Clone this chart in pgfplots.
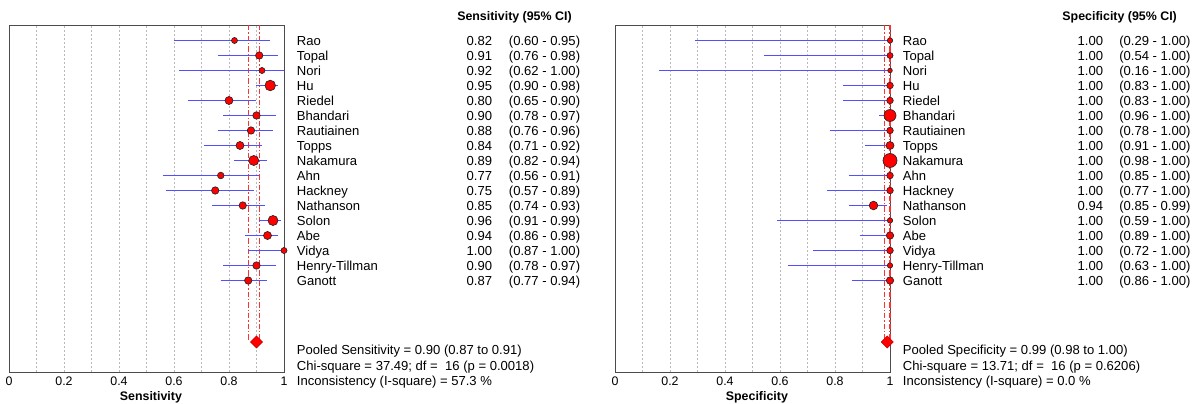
\documentclass[border=0pt]{standalone}
\usepackage{pgfplots}
\usepackage{pgfplotstable}
\pgfplotsset{compat=1.18}
\usepackage{fontspec}
\setmainfont{Liberation Sans}

\definecolor{cil}{RGB}{80,80,255}
\definecolor{poolred}{RGB}{255,50,50}

% y = row, est = estimate, r = marker radius (px)
\pgfplotstableread{
y   est  r
-1  0.82 3.0
-2  0.91 3.7
-3  0.92 3.0
-4  0.95 5.3
-5  0.80 4.0
-6  0.90 3.7
-7  0.88 3.7
-8  0.84 4.0
-9  0.89 5.0
-10 0.77 3.3
-11 0.75 3.7
-12 0.85 3.7
-13 0.96 5.0
-14 0.94 4.0
-15 1.00 3.0
-16 0.90 3.7
-17 0.87 3.7
}\sens

\pgfplotstableread{
y   est  r
-1  1.00 2.7
-2  1.00 3.0
-3  1.00 2.3
-4  1.00 3.3
-5  1.00 3.3
-6  1.00 6.0
-7  1.00 3.3
-8  1.00 4.0
-9  1.00 7.0
-10 1.00 3.3
-11 1.00 3.3
-12 0.94 4.3
-13 1.00 2.7
-14 1.00 3.7
-15 1.00 3.3
-16 1.00 2.7
-17 1.00 3.7
}\spec

\pgfplotsset{
  forest/.style={
    width=206.25pt, height=260.25pt, scale only axis,
    xmin=0, xmax=1, ymin=-23.1, ymax=0.0333333,
    clip=false,
    axis line style={black!70, line width=0.7pt},
    ytick=\empty,
    xtick={0,0.2,0.4,0.6,0.8,1},
    xticklabels={0,0.2,0.4,0.6,0.8,1},
    minor xtick={0.1,0.2,0.3,0.4,0.5,0.6,0.7,0.8,0.9},
    xminorgrids,
    minor grid style={gray!55, dash pattern=on 1.5pt off 1.5pt, line width=0.5pt},
    major tick length=0pt, minor tick length=0pt,
    xticklabel style={anchor=base, yshift=-10.3pt},
    xlabel style={font=\fontsize{9.3}{11}\selectfont\bfseries, at={(axis description cs:0.516,0)}, anchor=base, yshift=-21pt},
    unbounded coords=jump,
  },
  cimarks/.style={scatter, only marks, mark=*,
    scatter/use mapped color={draw=black!85, fill=red},
    visualization depends on={0.75*\thisrow{r} \as \rad},
    scatter/@pre marker code/.append style={/tikz/mark size=\rad},
    mark options={line width=0.5pt}},
  cilines/.style={cil, line width=1.2pt, mark=none},
  poolline/.style={poolred, line width=0.8pt, dash pattern=on 4pt off 1.5pt on 1pt off 1.5pt},
  pooldiamond/.style={only marks, mark=square*, mark size=3.2pt,
    mark options={rotate=45, fill=red, draw=red!75!black, line width=0.4pt}},
}

\tikzset{txt/.style={inner sep=0pt, font=\fontsize{9.8}{11}\selectfont}}

\newcommand\xn{1.0462}
\newcommand\xv{1.7575}
\newcommand\xc{1.817}
\newcommand\rowtext[4]{%
  \node[txt, anchor=base west, yshift=-3.4pt] at (axis cs:\xn,-#1) {#2};
  \node[txt, anchor=base east, yshift=-3.4pt] at (axis cs:\xv,-#1) {#3};
  \node[txt, anchor=base west, yshift=-3.4pt] at (axis cs:\xc,-#1) {#4};}

\begin{document}
\fontsize{9.3}{11}\selectfont
\begin{tikzpicture}
  % ---------------- Sensitivity ----------------
  \begin{axis}[forest, at={(0pt,0pt)}, anchor=south west, xlabel={Sensitivity}]
    \addplot[poolline] coordinates {(0.87,0.0333) (0.87,-21)};
    \addplot[poolline] coordinates {(0.91,0.0333) (0.91,-21)};
    \addplot[cimarks] table[x=est, y=y] {\sens};
    \addplot[cilines] coordinates {
      (0.60,-1) (0.95,-1) (nan,nan)
      (0.76,-2) (0.98,-2) (nan,nan)
      (0.62,-3) (1.00,-3) (nan,nan)
      (0.90,-4) (0.98,-4) (nan,nan)
      (0.65,-5) (0.90,-5) (nan,nan)
      (0.78,-6) (0.97,-6) (nan,nan)
      (0.76,-7) (0.96,-7) (nan,nan)
      (0.71,-8) (0.92,-8) (nan,nan)
      (0.82,-9) (0.94,-9) (nan,nan)
      (0.56,-10) (0.91,-10) (nan,nan)
      (0.57,-11) (0.89,-11) (nan,nan)
      (0.74,-12) (0.93,-12) (nan,nan)
      (0.91,-13) (0.99,-13) (nan,nan)
      (0.86,-14) (0.98,-14) (nan,nan)
      (0.87,-15) (1.00,-15) (nan,nan)
      (0.78,-16) (0.97,-16) (nan,nan)
      (0.77,-17) (0.94,-17)
    };
    \addplot[pooldiamond] coordinates {(0.90,-21.1)};

    \node[inner sep=0pt, anchor=base, font=\bfseries] at (axis cs:1.838,0.333) {Sensitivity (95\% CI)};
    \rowtext{1}{Rao}{0.82}{(0.60 - 0.95)}
    \rowtext{2}{Topal}{0.91}{(0.76 - 0.98)}
    \rowtext{3}{Nori}{0.92}{(0.62 - 1.00)}
    \rowtext{4}{Hu}{0.95}{(0.90 - 0.98)}
    \rowtext{5}{Riedel}{0.80}{(0.65 - 0.90)}
    \rowtext{6}{Bhandari}{0.90}{(0.78 - 0.97)}
    \rowtext{7}{Rautiainen}{0.88}{(0.76 - 0.96)}
    \rowtext{8}{Topps}{0.84}{(0.71 - 0.92)}
    \rowtext{9}{Nakamura}{0.89}{(0.82 - 0.94)}
    \rowtext{10}{Ahn}{0.77}{(0.56 - 0.91)}
    \rowtext{11}{Hackney}{0.75}{(0.57 - 0.89)}
    \rowtext{12}{Nathanson}{0.85}{(0.74 - 0.93)}
    \rowtext{13}{Solon}{0.96}{(0.91 - 0.99)}
    \rowtext{14}{Abe}{0.94}{(0.86 - 0.98)}
    \rowtext{15}{Vidya}{1.00}{(0.87 - 1.00)}
    \rowtext{16}{Henry-Tillman}{0.90}{(0.78 - 0.97)}
    \rowtext{17}{Ganott}{0.87}{(0.77 - 0.94)}
    \node[txt, anchor=base west] at (axis cs:\xn,-21.9) {Pooled Sensitivity = 0.90 (0.87 to 0.91)};
    \node[txt, anchor=base west] at (axis cs:\xn,-22.97) {Chi-square = 37.49; df = \ 16 (p = 0.0018)};
    \node[txt, anchor=base west] at (axis cs:\xn,-24.01) {Inconsistency (I-square) = 57.3 \%};

    \coordinate (bbsw) at (axis cs:-0.0327,-25.1667);
    \coordinate (bbne) at (axis cs:4.3018,1.7);
  \end{axis}

  % ---------------- Specificity ----------------
  \renewcommand\xv{1.7757}
  \renewcommand\xc{1.8327}
  \begin{axis}[forest, at={(454.5pt,0pt)}, anchor=south west, xlabel={Specificity}]
    \addplot[poolline] coordinates {(0.98,0.0333) (0.98,-21)};
    \addplot[poolline] coordinates {(1.00,0.0333) (1.00,-21)};
    \addplot[cimarks] table[x=est, y=y] {\spec};
    \addplot[cilines] coordinates {
      (0.29,-1) (1.00,-1) (nan,nan)
      (0.54,-2) (1.00,-2) (nan,nan)
      (0.16,-3) (1.00,-3) (nan,nan)
      (0.83,-4) (1.00,-4) (nan,nan)
      (0.83,-5) (1.00,-5) (nan,nan)
      (0.96,-6) (1.00,-6) (nan,nan)
      (0.78,-7) (1.00,-7) (nan,nan)
      (0.91,-8) (1.00,-8) (nan,nan)
      (0.98,-9) (1.00,-9) (nan,nan)
      (0.85,-10) (1.00,-10) (nan,nan)
      (0.77,-11) (1.00,-11) (nan,nan)
      (0.85,-12) (0.99,-12) (nan,nan)
      (0.59,-13) (1.00,-13) (nan,nan)
      (0.89,-14) (1.00,-14) (nan,nan)
      (0.72,-15) (1.00,-15) (nan,nan)
      (0.63,-16) (1.00,-16) (nan,nan)
      (0.86,-17) (1.00,-17)
    };
    \addplot[pooldiamond] coordinates {(0.99,-21.1)};

    \node[inner sep=0pt, anchor=base, font=\bfseries] at (axis cs:1.835,0.333) {Specificity (95\% CI)};
    \rowtext{1}{Rao}{1.00}{(0.29 - 1.00)}
    \rowtext{2}{Topal}{1.00}{(0.54 - 1.00)}
    \rowtext{3}{Nori}{1.00}{(0.16 - 1.00)}
    \rowtext{4}{Hu}{1.00}{(0.83 - 1.00)}
    \rowtext{5}{Riedel}{1.00}{(0.83 - 1.00)}
    \rowtext{6}{Bhandari}{1.00}{(0.96 - 1.00)}
    \rowtext{7}{Rautiainen}{1.00}{(0.78 - 1.00)}
    \rowtext{8}{Topps}{1.00}{(0.91 - 1.00)}
    \rowtext{9}{Nakamura}{1.00}{(0.98 - 1.00)}
    \rowtext{10}{Ahn}{1.00}{(0.85 - 1.00)}
    \rowtext{11}{Hackney}{1.00}{(0.77 - 1.00)}
    \rowtext{12}{Nathanson}{0.94}{(0.85 - 0.99)}
    \rowtext{13}{Solon}{1.00}{(0.59 - 1.00)}
    \rowtext{14}{Abe}{1.00}{(0.89 - 1.00)}
    \rowtext{15}{Vidya}{1.00}{(0.72 - 1.00)}
    \rowtext{16}{Henry-Tillman}{1.00}{(0.63 - 1.00)}
    \rowtext{17}{Ganott}{1.00}{(0.86 - 1.00)}
    \node[txt, anchor=base west] at (axis cs:\xn,-21.9) {Pooled Specificity = 0.99 (0.98 to 1.00)};
    \node[txt, anchor=base west] at (axis cs:\xn,-22.97) {Chi-square = 13.71; df = \ 16 (p = 0.6206)};
    \node[txt, anchor=base west] at (axis cs:\xn,-24.01) {Inconsistency (I-square) = 0.0 \%};
  \end{axis}

  \pgfresetboundingbox
  \useasboundingbox (bbsw) rectangle (bbne);
\end{tikzpicture}
\end{document}
